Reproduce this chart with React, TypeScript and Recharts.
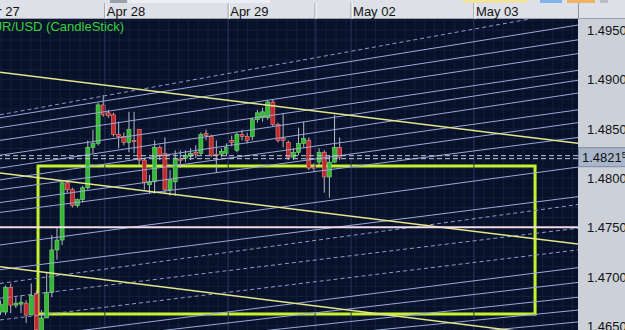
import React from 'react';
import { ComposedChart, Bar, XAxis, YAxis, CartesianGrid, ReferenceLine, ReferenceArea } from 'recharts';

// hourly EUR/USD bars, index 0 = leftmost (partly hidden) bar
const opens = [
  1.4664, 1.4664, 1.4689, 1.4671, 1.4672, 1.4673, 1.4661, 1.4683, 1.4644, 1.4658,
  1.4684, 1.4727, 1.4737, 1.4795, 1.4788, 1.4772, 1.4778, 1.4790, 1.4831, 1.4835,
  1.4874, 1.4866, 1.4864, 1.4844, 1.4842, 1.4836, 1.4838, 1.4849, 1.4818, 1.4793,
  1.4796, 1.4831, 1.4825, 1.4788, 1.4796, 1.4819, 1.4820, 1.4822, 1.4826, 1.4825,
  1.4845, 1.4842, 1.4824, 1.4824, 1.4825, 1.4838, 1.4828, 1.4844, 1.4842, 1.4842,
  1.4859, 1.4861, 1.4861, 1.4877, 1.4854, 1.4840, 1.4836, 1.4821, 1.4826, 1.4835,
  1.4838, 1.4811, 1.4816, 1.4826, 1.4801, 1.4816, 1.4831,
];
const highs = [
  1.4676, 1.4691, 1.4693, 1.4679, 1.4681, 1.4676, 1.4693, 1.4686, 1.4666, 1.4704,
  1.4742, 1.4749, 1.4796, 1.4797, 1.4790, 1.4779, 1.4792, 1.4838, 1.4849, 1.4876,
  1.4884, 1.4869, 1.4866, 1.4857, 1.4846, 1.4867, 1.4867, 1.4849, 1.4820, 1.4803,
  1.4838, 1.4833, 1.4841, 1.4808, 1.4828, 1.4828, 1.4828, 1.4830, 1.4833, 1.4846,
  1.4849, 1.4844, 1.4838, 1.4830, 1.4835, 1.4843, 1.4846, 1.4849, 1.4846, 1.4861,
  1.4869, 1.4871, 1.4879, 1.4879, 1.4856, 1.4866, 1.4838, 1.4830, 1.4851, 1.4857,
  1.4841, 1.4815, 1.4830, 1.4828, 1.4823, 1.4864, 1.4841,
];
const lows = [
  1.4661, 1.4661, 1.4663, 1.4668, 1.4663, 1.4653, 1.4661, 1.4641, 1.4642, 1.4658,
  1.4679, 1.4717, 1.4732, 1.4785, 1.4770, 1.4770, 1.4775, 1.4788, 1.4825, 1.4833,
  1.4862, 1.4861, 1.4842, 1.4830, 1.4833, 1.4826, 1.4825, 1.4813, 1.4788, 1.4784,
  1.4784, 1.4818, 1.4784, 1.4782, 1.4782, 1.4810, 1.4816, 1.4818, 1.4820, 1.4823,
  1.4838, 1.4821, 1.4805, 1.4821, 1.4822, 1.4832, 1.4826, 1.4838, 1.4835, 1.4838,
  1.4856, 1.4857, 1.4859, 1.4852, 1.4836, 1.4831, 1.4818, 1.4818, 1.4823, 1.4831,
  1.4808, 1.4806, 1.4813, 1.4785, 1.4780, 1.4815, 1.4818,
];
const closes = [
  1.4672, 1.4689, 1.4671, 1.4673, 1.4674, 1.4661, 1.4681, 1.4646, 1.4658, 1.4684,
  1.4727, 1.4737, 1.4795, 1.4788, 1.4772, 1.4778, 1.4790, 1.4831, 1.4835, 1.4874,
  1.4864, 1.4863, 1.4844, 1.4842, 1.4836, 1.4849, 1.4837, 1.4818, 1.4795, 1.4796,
  1.4831, 1.4823, 1.4788, 1.4798, 1.4820, 1.4818, 1.4823, 1.4825, 1.4824, 1.4844,
  1.4843, 1.4823, 1.4823, 1.4827, 1.4831, 1.4836, 1.4844, 1.4842, 1.4838, 1.4859,
  1.4866, 1.4867, 1.4877, 1.4854, 1.4838, 1.4838, 1.4821, 1.4826, 1.4835, 1.4840,
  1.4810, 1.4810, 1.4826, 1.4801, 1.4816, 1.4831, 1.4821,
];

const priceTicks = [1.465, 1.47, 1.475, 1.48, 1.485, 1.49, 1.495];
const lastPrice = 1.4821;
const supportLevel = 1.475;

// session separators (bar index) and their header labels
const sessionStarts = [-4.0, 20.4, 44.4, 61.3, 68.3, 92.2];
const sessionLabels = ['Apr 27', 'Apr 28', 'Apr 29', '', 'May 02', 'May 03'];

// rising channel / fan lines: [startIdx, startPrice, endIdx, endPrice, dashed]
const fanLines: [number, number, number, number, boolean][] = [
  [0, 1.4864, 112.45, 1.4970, true],
  [0, 1.4861, 112.45, 1.4955, false],
  [0, 1.4851, 112.45, 1.4940, false],
  [0, 1.4838, 112.45, 1.4926, false],
  [0, 1.4823, 112.45, 1.4909, false],
  [0, 1.4810, 112.45, 1.4899, false],
  [0, 1.4798, 112.45, 1.4886, false],
  [0, 1.4788, 112.45, 1.4869, false],
  [0, 1.4775, 112.45, 1.4856, false],
  [0, 1.4765, 112.45, 1.4841, false],
  [0, 1.4732, 112.45, 1.4811, false],
  [0, 1.4707, 112.45, 1.4781, false],
  [0, 1.4693, 112.45, 1.4773, true],
  [0, 1.4678, 112.45, 1.4749, true],
  [0, 1.4656, 112.45, 1.4727, true],
  [7.8, 1.4640, 112.45, 1.4709, false],
  [19.5, 1.4638, 112.45, 1.4694, false],
  [35.0, 1.4636, 112.45, 1.4679, false],
  [50.6, 1.4634, 112.45, 1.4666, false],
  [68.1, 1.4632, 112.45, 1.4654, false],
];

// falling yellow trend channel: [startIdx, startPrice, endIdx, endPrice]
const trendLines: [number, number, number, number][] = [
  [0, 1.4907, 112.45, 1.4835],
  [0, 1.4805, 112.45, 1.4733],
  [0, 1.4710, 112.45, 1.4637],
];

const boxX = [7.4, 104.1];
const boxY = [1.4662, 1.4812];

const candles = opens.map((o, i) => ({
  i,
  open: o,
  high: highs[i],
  low: lows[i],
  close: closes[i],
  range: [lows[i], highs[i]],
}));

const FONT = '"Liberation Sans", Arial, sans-serif';

// fine background grid, roughly every 0.001 and every 2 bars
const gridRows: number[] = [];
for (let y = 20.3; y < 330; y += 9.86) gridRows.push(y);
const gridCols: number[] = [];
for (let x = 474 - 48 * 9.85; x < 578; x += 9.85) if (x > 0) gridCols.push(x);

const Candle = (props: any) => {
  const { x, y, width, height, payload } = props;
  const { open, close, high, low } = payload;
  const span = high - low || 1e-9;
  const toY = (v: number) => y + ((high - v) / span) * height;
  const up = close >= open;
  const top = toY(Math.max(open, close));
  const bot = toY(Math.min(open, close));
  const cx = x + width / 2;
  return (
    <g>
      <line x1={cx} x2={cx} y1={y} y2={y + height} stroke="#b4b9c6" strokeWidth={1} />
      <rect
        x={x}
        y={top}
        width={width}
        height={Math.max(bot - top, 1.2)}
        fill={up ? '#34b834' : '#c42a2a'}
        stroke={up ? '#7ddc7d' : '#e88a8a'}
        strokeWidth={0.6}
      />
    </g>
  );
};

const PriceTick = (props: any) => {
  const { y, payload } = props;
  if (payload.value === lastPrice) {
    return (
      <g>
        <rect x={578.5} y={y - 9.5} width={47} height={19} fill="#a9b5c8" stroke="#7e8aa0" />
        <text x={582} y={y + 5} fontSize={13} fill="#111" fontFamily={FONT}>
          {payload.value.toFixed(4)}
          <tspan fontSize={9} dy={-4}>5</tspan>
        </text>
      </g>
    );
  }
  return (
    <text x={587} y={y + 5} fontSize={13} fill="#111" fontFamily={FONT}>
      {payload.value.toFixed(4)}
    </text>
  );
};

const SessionTick = (props: any) => {
  const { x, payload } = props;
  const label = sessionLabels[sessionStarts.indexOf(payload.value)];
  return (
    <g>
      <line x1={x} x2={x} y1={3} y2={19} stroke="#8c919c" />
      <line x1={x + 1} x2={x + 1} y1={3} y2={19} stroke="#ffffff" />
      <text x={x + 2} y={15.5} fontSize={13} fill="#111" fontFamily={FONT}>
        {label}
      </text>
    </g>
  );
};

const PriceLine = (props: any) => {
  const { x1, x2, y1 } = props;
  return (
    <g>
      <line x1={x1} x2={x2} y1={y1 - 1.5} y2={y1 - 1.5} stroke="#c3cbdd" strokeDasharray="5 3" />
      <line x1={x1} x2={x2} y1={y1 + 1.5} y2={y1 + 1.5} stroke="#c3cbdd" strokeDasharray="5 3" />
    </g>
  );
};

const toolbarBits = [
  { left: 110, width: 17, bg: '#9aa0a8' },
  { left: 128, width: 142, bg: '#eceef1' },
  { left: 463, width: 64, bg: '#f0e4a0' },
  { left: 540, width: 22, bg: '#80b4e8' },
  { left: 567, width: 28, bg: '#f0b262' },
  { left: 600, width: 8, bg: '#b8bcc4' },
];

export default function App() {
  return (
    <div
      style={{
        position: 'absolute',
        left: 0,
        top: 0,
        width: 625,
        height: 330,
        overflow: 'hidden',
        background: '#dde0e6',
        fontFamily: FONT,
      }}
    >
      {toolbarBits.map((b, k) => (
        <div key={k} style={{ position: 'absolute', top: 0, left: b.left, width: b.width, height: 3, background: b.bg }} />
      ))}
      <div style={{ position: 'absolute', left: 0, top: 18, width: 625, height: 1, background: '#9da3ad' }} />
      <div style={{ position: 'absolute', left: 578, top: 19, width: 47, height: 311, background: '#ccd1d9' }} />
      <div style={{ position: 'absolute', left: 578, top: 3, width: 1, height: 16, background: '#8c919c' }} />

      <div style={{ position: 'absolute', left: 0, top: 0 }}>
        <ComposedChart width={625} height={330} data={candles} margin={{ top: 0, right: 0, bottom: 0, left: 0 }}>
          <CartesianGrid
            fill="#08112a"
            stroke="#141f3a"
            horizontalPoints={gridRows}
            verticalPoints={gridCols}
          />
          <XAxis
            dataKey="i"
            type="number"
            orientation="top"
            height={19}
            domain={[0, 112.45]}
            allowDataOverflow
            ticks={sessionStarts}
            interval={0}
            tick={<SessionTick />}
            tickLine={false}
            axisLine={false}
          />
          <YAxis
            orientation="right"
            width={47}
            domain={[1.46458, 1.49611]}
            allowDataOverflow
            ticks={[...priceTicks, lastPrice]}
            interval={0}
            tick={<PriceTick />}
            tickLine={false}
            axisLine={false}
            tickSize={0}
          />
          {sessionStarts.map((s) => (
            <ReferenceLine key={'s' + s} x={s} stroke="#27355a" ifOverflow="hidden" />
          ))}
          {fanLines.map(([i1, p1, i2, p2, dashed], k) => (
            <ReferenceLine
              key={'f' + k}
              segment={[{ x: i1, y: p1 }, { x: i2, y: p2 }]}
              stroke={dashed ? '#8e9acb' : '#9ca8d8'}
              strokeDasharray={dashed ? '4 3' : undefined}
              strokeWidth={1}
              ifOverflow="hidden"
            />
          ))}
          {trendLines.map(([i1, p1, i2, p2], k) => (
            <ReferenceLine
              key={'t' + k}
              segment={[{ x: i1, y: p1 }, { x: i2, y: p2 }]}
              stroke="#e4e68a"
              strokeWidth={1.5}
              ifOverflow="hidden"
            />
          ))}
          <ReferenceLine y={supportLevel} stroke="#f3dbe6" strokeWidth={2} />
          <ReferenceArea
            x1={boxX[0]}
            x2={boxX[1]}
            y1={boxY[0]}
            y2={boxY[1]}
            fill="none"
            stroke="#c8f230"
            strokeWidth={3}
            ifOverflow="hidden"
          />
          <Bar dataKey="range" barSize={4} shape={<Candle />} isAnimationActive={false} />
          <ReferenceLine y={lastPrice} shape={<PriceLine />} />
        </ComposedChart>
      </div>

      <div
        style={{
          position: 'absolute',
          left: -16,
          top: 19,
          fontSize: 13,
          color: '#38d23a',
          whiteSpace: 'nowrap',
          lineHeight: '15px',
        }}
      >
        EUR/USD (CandleStick)
      </div>
    </div>
  );
}
